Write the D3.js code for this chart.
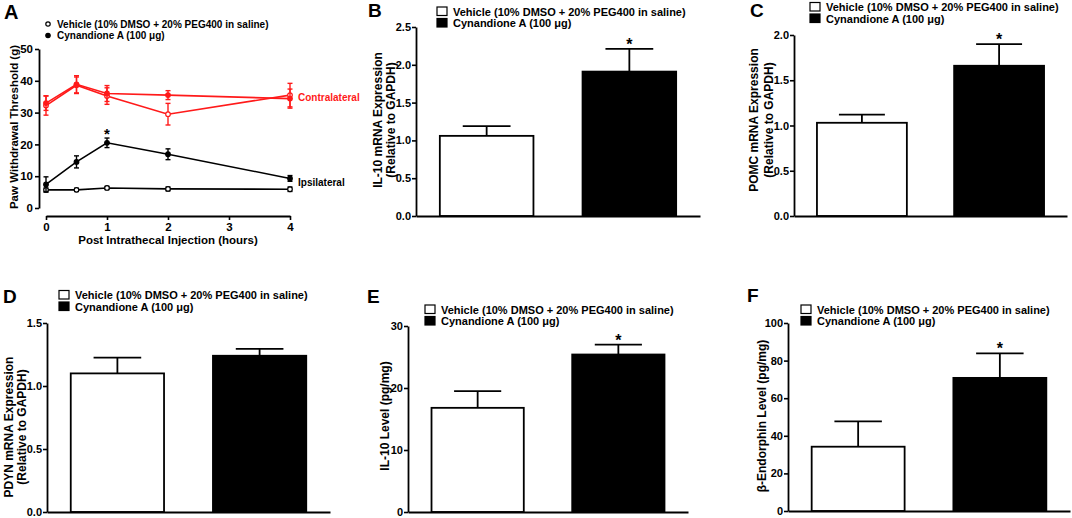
<!DOCTYPE html>
<html>
<head>
<meta charset="utf-8">
<script src="https://cdn.jsdelivr.net/npm/d3@7"></script>
<style>
  body { margin: 0; background: #fff; }
  text { font-family: "Liberation Sans", Arial, sans-serif; font-weight: bold; }
</style>
</head>
<body>
<div id="fig"></div>
<script>
// ---- data ----
var groups = ["Vehicle (10% DMSO + 20% PEG400 in saline)", "Cynandione A (100 μg)"];

// panel A: time course
var timeHours = [0, 0.5, 1, 2, 4];
var timeTicks = [0, 1, 2, 3, 4];
var pwtTicks = [0, 10, 20, 30, 40, 50];
var contraVehicle = [32.2, 38.6, 35.2, 29.5, 35.5];
var contraVehicleErr = [3.0, 2.6, 2.6, 3.4, 3.7];
var contraCyn = [33.0, 38.9, 36.0, 35.5, 34.4];
var contraCynErr = [2.3, 2.7, 2.5, 1.4, 3.0];
var ipsiVehicle = [5.7, 5.7, 6.3, 6.0, 5.9];
var ipsiVehicleErr = [0.6, 0.5, 0.5, 0.6, 0.7];
var ipsiCyn = [7.4, 14.5, 20.5, 16.9, 9.3];
var ipsiCynErr = [2.4, 1.9, 1.5, 1.7, 0.9];

// panels B-F: bar charts (mean, sem)
var il10Mrna = [1.06, 1.91], il10MrnaErr = [0.13, 0.30];
var pomcMrna = [1.03, 1.66], pomcMrnaErr = [0.09, 0.24];
var pdynMrna = [1.10, 1.24], pdynMrnaErr = [0.125, 0.055];
var il10Level = [16.8, 25.4], il10LevelErr = [2.7, 1.6];
var endorphinLevel = [34.2, 70.8], endorphinLevelErr = [13.5, 13.0];

var ticks25 = [0, 0.5, 1.0, 1.5, 2.0, 2.5];
var ticks20 = [0, 0.5, 1.0, 1.5, 2.0];
var ticks15 = [0, 0.5, 1.0, 1.5];
var ticks30 = [0, 10, 20, 30];
var ticks100 = [0, 20, 40, 60, 80, 100];

var svg = d3.select("#fig").append("svg")
  .attr("width", 1072)
  .attr("height", 518);

var red = "#ff1a1a";

// ---------- panel A ----------
var ax = d3.scaleLinear().domain([0, 4]).range([46, 290]);
var ay = d3.scaleLinear().domain([0, 50]).range([208, 49]);

var gA = svg.append("g");

gA.append("g")
  .attr("transform", "translate(39,0)")
  .call(d3.axisLeft(ay).tickValues(pwtTicks).tickSize(4).tickPadding(2).tickSizeOuter(0))
  .call(styleAxis, 11.5);

gA.append("g")
  .attr("transform", "translate(0,216)")
  .call(d3.axisBottom(ax).tickValues(timeTicks).tickFormat(d3.format("d")).tickSize(4).tickPadding(3).tickSizeOuter(0))
  .call(styleAxis, 11.5);

gA.append("text")
  .attr("x", 168).attr("y", 244)
  .attr("text-anchor", "middle")
  .attr("font-size", 11.5)
  .text("Post Intrathecal Injection (hours)");

gA.append("text")
  .attr("transform", "translate(18,127) rotate(-90)")
  .attr("text-anchor", "middle")
  .attr("font-size", 11.5)
  .text("Paw Withdrawal Threshold (g)");

var series = [
  {vals: contraVehicle, err: contraVehicleErr, color: red, open: true},
  {vals: contraCyn, err: contraCynErr, color: red, open: false},
  {vals: ipsiVehicle, err: ipsiVehicleErr, color: "#000", open: true},
  {vals: ipsiCyn, err: ipsiCynErr, color: "#000", open: false}
];

var line = d3.line()
  .x(function(d, i) { return ax(timeHours[i]); })
  .y(function(d) { return ay(d); });

series.forEach(function(s) {
  var g = gA.append("g");
  g.append("path")
    .attr("d", line(s.vals))
    .attr("fill", "none")
    .attr("stroke", s.color)
    .attr("stroke-width", 1.6);
  var pts = g.selectAll(".pt").data(s.vals).enter().append("g");
  pts.append("line")
    .attr("x1", function(d, i) { return ax(timeHours[i]); })
    .attr("x2", function(d, i) { return ax(timeHours[i]); })
    .attr("y1", function(d, i) { return ay(d - s.err[i]); })
    .attr("y2", function(d, i) { return ay(d + s.err[i]); })
    .attr("stroke", s.color).attr("stroke-width", 1.4);
  [-1, 1].forEach(function(sign) {
    pts.append("line")
      .attr("x1", function(d, i) { return ax(timeHours[i]) - 2.5; })
      .attr("x2", function(d, i) { return ax(timeHours[i]) + 2.5; })
      .attr("y1", function(d, i) { return ay(d + sign * s.err[i]); })
      .attr("y2", function(d, i) { return ay(d + sign * s.err[i]); })
      .attr("stroke", s.color).attr("stroke-width", 1.4);
  });
  pts.append("circle")
    .attr("cx", function(d, i) { return ax(timeHours[i]); })
    .attr("cy", function(d) { return ay(d); })
    .attr("r", 2.3)
    .attr("fill", s.open ? "#fff" : s.color)
    .attr("stroke", s.color)
    .attr("stroke-width", 1.2);
});

gA.append("text")
  .attr("x", ax(1)).attr("y", ay(ipsiCyn[2] + ipsiCynErr[2]) + 1)
  .attr("text-anchor", "middle")
  .attr("font-size", 15)
  .text("*");

gA.append("text")
  .attr("x", 298).attr("y", ay(34.9) + 4)
  .attr("font-size", 10).attr("fill", red)
  .text("Contralateral");

gA.append("text")
  .attr("x", 298).attr("y", ay(8.2) + 4)
  .attr("font-size", 10)
  .text("Ipsilateral");

// panel A legend (circle markers)
groups.forEach(function(name, i) {
  var y = 24 + i * 11.5;
  gA.append("circle")
    .attr("cx", 48).attr("cy", y).attr("r", 2.2)
    .attr("fill", i === 0 ? "#fff" : "#000")
    .attr("stroke", "#000").attr("stroke-width", 1.2);
  gA.append("text")
    .attr("x", 57).attr("y", y + 3.6)
    .attr("font-size", 10)
    .text(name);
});

panelLetter("A", 4, 19, 20);

// ---------- bar panels ----------
var panels = [
  {letter: "B", lx: 368, ly: 17, x0: 416, x1: 700, y0: 216, yTop: 27, max: 2.5, ticks: ticks25, fmt: ".1f",
   vals: il10Mrna, err: il10MrnaErr, star: true,
   title: ["IL-10 mRNA Expression", "(Relative to GAPDH)"], tx: 388, ty: 120, gap: 13,
   legX: 437, legY: 7},
  {letter: "C", lx: 750, ly: 17, x0: 794, x1: 1067, y0: 216, yTop: 35, max: 2.0, ticks: ticks20, fmt: ".1f",
   vals: pomcMrna, err: pomcMrnaErr, star: true,
   title: ["POMC mRNA Expression", "(Relative to GAPDH)"], tx: 765, ty: 120, gap: 15,
   legX: 810, legY: 2.5},
  {letter: "D", lx: 3, ly: 303, x0: 47, x1: 330, y0: 512, yTop: 323, max: 1.5, ticks: ticks15, fmt: ".1f",
   vals: pdynMrna, err: pdynMrnaErr, star: false,
   title: ["PDYN  mRNA Expression", "(Relative to GAPDH)"], tx: 19.5, ty: 427, gap: 13.5,
   legX: 59, legY: 290.5},
  {letter: "E", lx: 367, ly: 303, x0: 408, x1: 688, y0: 512, yTop: 326, max: 30, ticks: ticks30, fmt: "d",
   vals: il10Level, err: il10LevelErr, star: true,
   title: ["IL-10 Level (pg/mg)"], tx: 389, ty: 416, gap: 15,
   legX: 425, legY: 305},
  {letter: "F", lx: 747, ly: 302, x0: 788, x1: 1070, y0: 511, yTop: 323, max: 100, ticks: ticks100, fmt: "d",
   vals: endorphinLevel, err: endorphinLevelErr, star: true,
   title: ["β-Endorphin Level (pg/mg)"], tx: 766, ty: 416, gap: 15,
   legX: 801, legY: 305}
];

panels.forEach(drawBars);

function drawBars(p) {
  var g = svg.append("g");
  var x = d3.scaleBand().domain(groups).range([p.x0, p.x1]).paddingInner(0.33).paddingOuter(0.16);
  var y = d3.scaleLinear().domain([0, p.max]).range([p.y0, p.yTop]);
  var bw = x.bandwidth();

  // error bars (upper only) behind bars
  g.selectAll(".eb").data(p.vals).enter().append("line")
    .attr("x1", function(d, i) { return x(groups[i]) + bw / 2; })
    .attr("x2", function(d, i) { return x(groups[i]) + bw / 2; })
    .attr("y1", function(d) { return y(d); })
    .attr("y2", function(d, i) { return y(d + p.err[i]); })
    .attr("stroke", "#000").attr("stroke-width", 1.8);
  g.selectAll(".cap").data(p.vals).enter().append("line")
    .attr("x1", function(d, i) { return x(groups[i]) + bw / 4; })
    .attr("x2", function(d, i) { return x(groups[i]) + bw * 3 / 4; })
    .attr("y1", function(d, i) { return y(d + p.err[i]); })
    .attr("y2", function(d, i) { return y(d + p.err[i]); })
    .attr("stroke", "#000").attr("stroke-width", 1.8);

  g.selectAll(".bar").data(p.vals).enter().append("rect")
    .attr("x", function(d, i) { return x(groups[i]) + 1; })
    .attr("y", function(d) { return y(d); })
    .attr("width", bw - 2)
    .attr("height", function(d) { return p.y0 - y(d); })
    .attr("fill", function(d, i) { return i === 0 ? "#fff" : "#000"; })
    .attr("stroke", "#000").attr("stroke-width", 1.8);

  g.append("g")
    .attr("transform", "translate(" + p.x0 + ",0)")
    .call(d3.axisLeft(y).tickValues(p.ticks).tickFormat(d3.format(p.fmt)).tickSize(4).tickPadding(1).tickSizeOuter(0))
    .call(styleAxis, 11);

  g.append("g")
    .attr("transform", "translate(0," + p.y0 + ")")
    .call(d3.axisBottom(x).tickSize(0).tickFormat("").tickSizeOuter(0))
    .call(styleAxis, 11);

  if (p.star) {
    g.append("text")
      .attr("x", x(groups[1]) + bw / 2)
      .attr("y", y(p.vals[1] + p.err[1]) + 1)
      .attr("text-anchor", "middle")
      .attr("font-size", 16)
      .text("*");
  }

  p.title.forEach(function(t, i) {
    var n = p.title.length;
    g.append("text")
      .attr("transform", "translate(" + (p.tx + (i - (n - 1) / 2) * p.gap) + "," + p.ty + ") rotate(-90)")
      .attr("text-anchor", "middle")
      .attr("font-size", 12)
      .text(t);
  });

  groups.forEach(function(name, i) {
    var yy = p.legY + i * 11.5;
    g.append("rect")
      .attr("x", p.legX).attr("y", yy)
      .attr("width", 10).attr("height", 8.5)
      .attr("fill", i === 0 ? "#fff" : "#000")
      .attr("stroke", "#000").attr("stroke-width", 1.2);
    g.append("text")
      .attr("x", p.legX + 16).attr("y", yy + 8.5)
      .attr("font-size", 11)
      .text(name);
  });

  panelLetter(p.letter, p.lx, p.ly, 19);
}

function panelLetter(t, x, y, size) {
  svg.append("text")
    .attr("x", x).attr("y", y)
    .attr("font-size", size)
    .text(t);
}

function styleAxis(sel, size) {
  sel.select(".domain").attr("stroke", "#000").attr("stroke-width", 1.8);
  sel.selectAll(".tick line").attr("stroke", "#000").attr("stroke-width", 1.6);
  sel.selectAll(".tick text")
    .attr("fill", "#000")
    .attr("font-size", size)
    .attr("font-family", "'Liberation Sans', Arial, sans-serif")
    .attr("font-weight", "bold");
}
</script>
</body>
</html>
